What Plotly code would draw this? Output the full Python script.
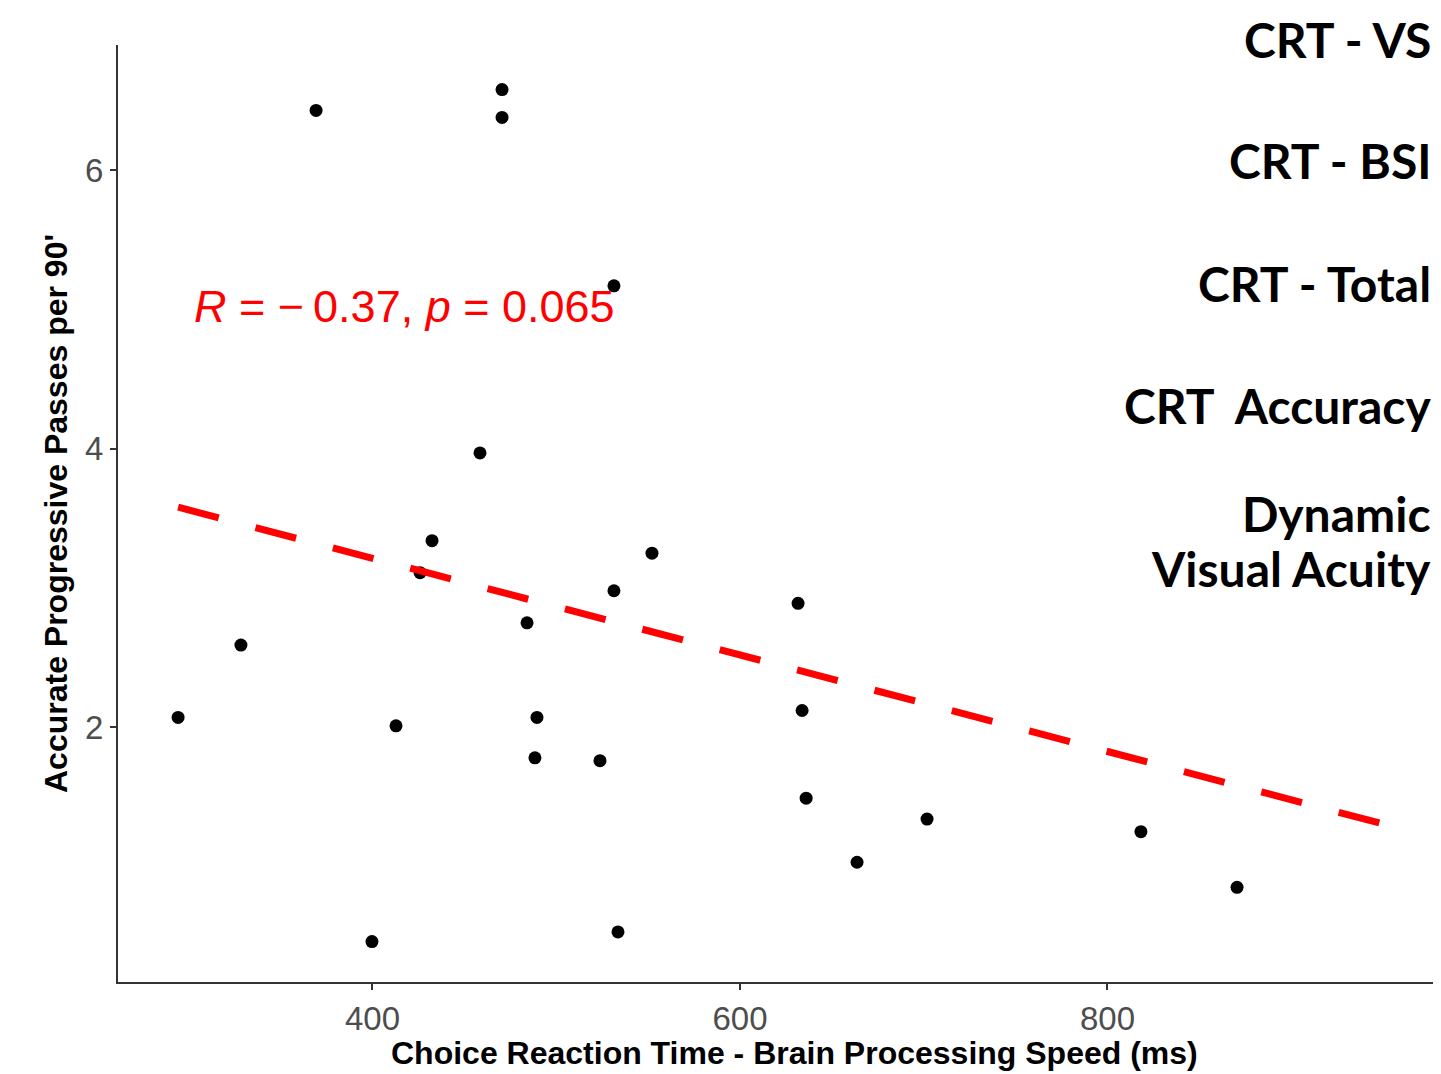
import plotly.graph_objects as go

# Data
crt_ms = [294.2, 328.4, 369.3, 399.7, 412.8, 425.9, 432.4, 458.5, 470.5, 470.5,
          484.1, 489.5, 488.4, 523.8, 531.4, 531.4, 533.6, 552.1, 631.6, 633.8,
          636.0, 663.7, 701.8, 818.2, 870.5]
passes = [2.07, 2.59, 6.43, 0.46, 2.01, 3.11, 3.34, 3.97, 6.58, 6.38,
          2.75, 2.07, 1.78, 1.76, 5.17, 2.98, 0.53, 3.25, 2.89, 2.12,
          1.49, 1.03, 1.34, 1.25, 0.85]

fit_x = [294.2, 951.5]
fit_y = [3.58, 1.30]

x_ticks = [400, 600, 800]
y_ticks = [2, 4, 6]

x_title = "Choice Reaction Time - Brain Processing Speed (ms)"
y_title = "Accurate Progressive Passes per 90'"
stat_text = "<i>R</i> = \u2212\u20090.37, <i>p</i> = 0.065"

side_labels = ["CRT - VS", "CRT - BSI", "CRT - Total", "CRT  Accuracy", "Dynamic", "Visual Acuity"]
side_y_px = [40, 160, 283, 405, 513, 568]

# the browser page body has an 8 px margin: figure is placed at (8, 8)
OFF = 8
W, H = 1441 - 2 * OFF, 1074 - OFF
ml, mr, mt = 118 - OFF, 0, 45 - OFF
mb = OFF + H - 982
pw, ph = W - ml - mr, H - mt - mb
px_per_x = 1.8375
x0 = 261.5
x1 = x0 + pw / px_per_x

fig = go.Figure()
fig.add_trace(go.Scatter(
    x=crt_ms, y=passes, mode="markers",
    marker=dict(color="black", size=13, line=dict(width=0)),
    showlegend=False, hoverinfo="x+y"))
fig.add_trace(go.Scatter(
    x=fit_x, y=fit_y, mode="lines",
    line=dict(color="#FF0000", width=7, dash="42px,38px"),
    showlegend=False, hoverinfo="skip"))

annotations = [
    dict(x=301.8, y=5.02, xref="x", yref="y", xanchor="left", yanchor="middle",
         text=stat_text, showarrow=False,
         font=dict(family="Liberation Sans, Arial, sans-serif", size=45, color="#FF0000")),
    dict(x=400 + (795 - 372.5) / px_per_x, y=-(1053 - 982) / ph, xref="x", yref="paper",
         xanchor="center", yanchor="middle", text="<b>%s</b>" % x_title, showarrow=False,
         font=dict(family="Liberation Sans, Arial, sans-serif", size=32, color="black")),
]

for lab, py in zip(side_labels, side_y_px):
    annotations.append(dict(
        x=1.0, y=1 - (py - OFF - mt) / ph, xref="paper", yref="paper",
        xanchor="right", yanchor="middle", text="<b>%s</b>" % lab, showarrow=False,
        font=dict(family="Lato, sans-serif", size=48, color="black")))

fig.update_layout(
    width=W, height=H,
    margin=dict(l=ml, r=mr, t=mt, b=mb),
    plot_bgcolor="white", paper_bgcolor="white",
    annotations=annotations,
    xaxis=dict(
        range=[x0, x1], tickvals=x_ticks, showgrid=False, zeroline=False,
        showline=True, linecolor="#333333", linewidth=2,
        ticks="outside", ticklen=6, tickwidth=1.5, tickcolor="#333333",
        tickfont=dict(family="Liberation Sans, Arial, sans-serif", size=33, color="#4D4D4D"),
    ),
    yaxis=dict(
        range=[0.17, 6.90], tickvals=y_ticks, showgrid=False, zeroline=False,
        showline=True, linecolor="#333333", linewidth=2,
        ticks="outside", ticklen=6, tickwidth=1.5, tickcolor="#333333",
        tickfont=dict(family="Liberation Sans, Arial, sans-serif", size=33, color="#4D4D4D"),
        title=dict(text="<b>%s</b>" % y_title,
                   font=dict(family="Liberation Sans, Arial, sans-serif", size=32, color="black"),
                   standoff=8),
    ),
)

fig.write_html("out.html")
